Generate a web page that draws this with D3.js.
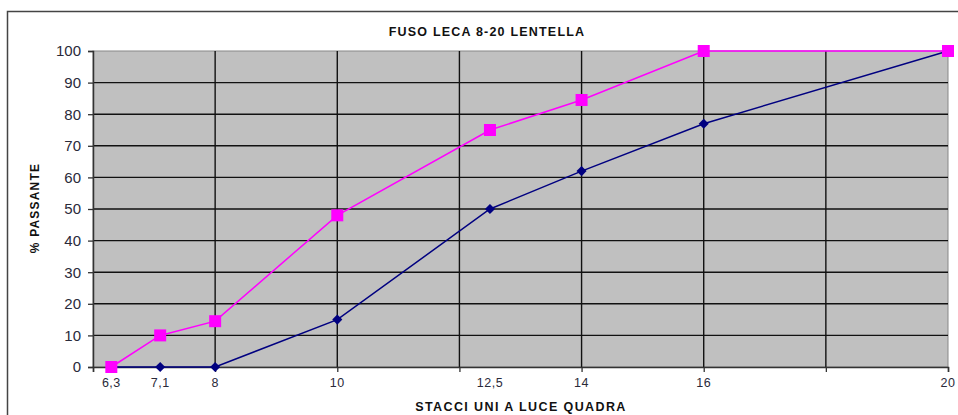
<!DOCTYPE html>
<html><head><meta charset="utf-8">
<script src="https://cdn.jsdelivr.net/npm/d3@7"></script>
<style>
html,body{margin:0;padding:0;background:#fff;}
svg text{font-family:"Liberation Sans",Arial,sans-serif;}
</style></head>
<body>
<svg id="c" width="958" height="415"></svg>
<script>
const title = "FUSO LECA 8-20 LENTELLA";
const xTitle = "STACCI UNI A LUCE QUADRA";
const yTitle = "% PASSANTE";
const sieves = [6.3, 7.1, 8, 10, 12.5, 14, 16, 20];
const sieveLabels = ["6,3", "7,1", "8", "10", "12,5", "14", "16", "20"];
const upperLimit = [0, 10, 14.5, 48, 75, 84.5, 100, 100];
const lowerLimit = [0, 0, 0, 15, 50, 62, 77, 100];
const xGrid = [6, 8, 10, 12, 14, 16, 18, 20];
const yTicks = [0, 10, 20, 30, 40, 50, 60, 70, 80, 90, 100];

const svg = d3.select("#c");
const L = 93, R = 948, T = 51, B = 367;
const x = d3.scaleLinear().domain([6, 20]).range([L, R]);
const y = d3.scaleLinear().domain([0, 100]).range([B, T]);

// outer frame
svg.append("rect").attr("x", 7.5).attr("y", 11.5).attr("width", 960).attr("height", 410)
  .attr("fill", "none").attr("stroke", "#444").attr("stroke-width", 1.5);

// plot background
svg.append("rect").attr("x", L).attr("y", T).attr("width", R - L).attr("height", B - T)
  .attr("fill", "#c0c0c0").attr("stroke", "#888").attr("stroke-width", 1);

// grid
svg.append("g").selectAll("line").data(yTicks.filter(d => d > 0 && d < 100)).join("line")
  .attr("x1", L).attr("x2", R).attr("y1", d => y(d)).attr("y2", d => y(d))
  .attr("stroke", "#111").attr("stroke-width", 1.4);
svg.append("g").selectAll("line").data(xGrid.filter(d => d > 6 && d < 20)).join("line")
  .attr("y1", T).attr("y2", B).attr("x1", d => x(d)).attr("x2", d => x(d))
  .attr("stroke", "#111").attr("stroke-width", 1.4);

// axes
const yAxis = d3.axisLeft(y).tickValues(yTicks).tickSize(5).tickPadding(7).tickFormat(d3.format("d"));
const gy = svg.append("g").attr("transform", `translate(${L},0)`).call(yAxis);
gy.select(".domain").attr("stroke", "#333").attr("stroke-width", 1.5);
gy.selectAll(".tick line").attr("stroke", "#333").attr("stroke-width", 1.3);
gy.selectAll(".tick text").attr("font-size", 15).attr("fill", "#2a2a3a")
  .attr("font-family", "Liberation Sans, Arial, sans-serif");

const xAxis = d3.axisBottom(x).tickValues(xGrid).tickSize(5).tickFormat("");
const gx = svg.append("g").attr("transform", `translate(0,${B})`).call(xAxis);
gx.select(".domain").attr("stroke", "#333").attr("stroke-width", 1.5);
gx.selectAll(".tick line").attr("stroke", "#333").attr("stroke-width", 1.3);

svg.append("g").selectAll("text").data(sieves).join("text")
  .attr("x", d => x(d)).attr("y", 387).attr("text-anchor", "middle")
  .attr("font-size", 12.5).attr("letter-spacing", 0.5).attr("fill", "#2a2a3a")
  .text((d, i) => sieveLabels[i]);

// lines
const line = d3.line().x((d, i) => x(sieves[i])).y(d => y(d));
svg.append("path").datum(lowerLimit).attr("d", line)
  .attr("fill", "none").attr("stroke", "#000080").attr("stroke-width", 1.5);
svg.append("path").datum(upperLimit).attr("d", line)
  .attr("fill", "none").attr("stroke", "#ff00ff").attr("stroke-width", 1.5);

// markers
svg.append("g").selectAll("path").data(lowerLimit).join("path")
  .attr("transform", (d, i) => `translate(${x(sieves[i])},${y(d)})`)
  .attr("d", d3.symbol().type(d3.symbolDiamond2).size(65)).attr("fill", "#000080");
svg.append("g").selectAll("rect").data(upperLimit).join("rect")
  .attr("x", (d, i) => x(sieves[i]) - 6).attr("y", d => y(d) - 6)
  .attr("width", 12).attr("height", 12).attr("fill", "#ff00ff");

// titles
svg.append("text").attr("x", 487).attr("y", 36).attr("text-anchor", "middle")
  .attr("font-size", 12.5).attr("font-weight", "bold").attr("letter-spacing", 1.2).attr("fill", "#111")
  .text(title);
svg.append("text").attr("x", 521).attr("y", 411).attr("text-anchor", "middle")
  .attr("font-size", 12.5).attr("font-weight", "bold").attr("letter-spacing", 1.4).attr("fill", "#111")
  .text(xTitle);
svg.append("text").attr("transform", "translate(39,208) rotate(-90)").attr("text-anchor", "middle")
  .attr("font-size", 12).attr("font-weight", "bold").attr("letter-spacing", 1.2).attr("fill", "#111")
  .text(yTitle);
</script>
</body></html>
